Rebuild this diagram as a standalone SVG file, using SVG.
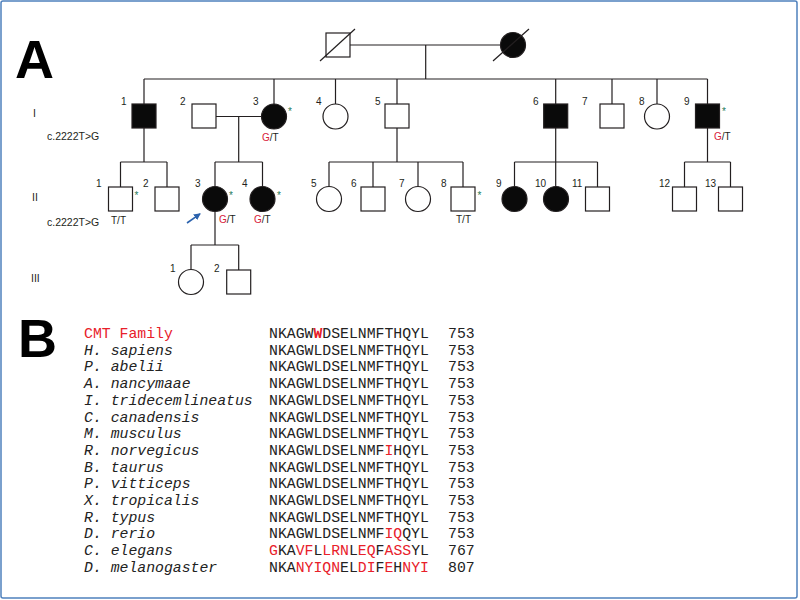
<svg xmlns="http://www.w3.org/2000/svg" width="800" height="600" viewBox="0 0 800 600">
<style>
.ln{stroke:#231f20;stroke-width:1.2;fill:none}
.op{fill:#fff;stroke:#231f20;stroke-width:1.2}
.af{fill:#0a0a0a;stroke:#231f20;stroke-width:1.2}
.lb{font-family:"Liberation Sans",Arial,sans-serif;font-size:10px;fill:#231f20}
.gn{font-family:"Liberation Sans",Arial,sans-serif;font-size:10.5px;fill:#231f20}
.rd{fill:#d8213a}
.ast{font-family:"Liberation Sans",Arial,sans-serif;font-size:10px;fill:#1f7a5a}
.big{font-family:"Liberation Sans",Arial,sans-serif;font-size:54px;font-weight:bold;fill:#000}
.sp{font-family:"Liberation Mono","Courier New",monospace;font-size:14.8px;font-style:italic;fill:#222}
.sq{font-family:"Liberation Mono","Courier New",monospace;font-size:14.8px;fill:#222}
.r{fill:#e8202a}
</style>
<defs>
<marker id="ah" markerWidth="8" markerHeight="8" refX="6" refY="4" orient="auto" markerUnits="userSpaceOnUse">
<path d="M0,0.5 L7,4 L0,7.5 Z" fill="#2b62ad"/>
</marker>
</defs>
<rect x="1" y="1" width="796" height="597" rx="2" fill="#fff" stroke="#4f81bd" stroke-width="1.5"/>
<text class="big" x="15" y="78">A</text>
<text class="big" x="18" y="357">B</text>

<g id="gen-labels">
<text class="gn" x="33" y="117">I</text>
<text class="gn" x="47" y="140">c.2222T&gt;G</text>
<text class="gn" x="32" y="201">II</text>
<text class="gn" x="47" y="226">c.2222T&gt;G</text>
<text class="gn" x="31" y="282">III</text>
</g>

<g id="connectors">
<line class="ln" x1="350" y1="45" x2="500.5" y2="45"/>
<line class="ln" x1="425.7" y1="45" x2="425.7" y2="79"/>
<line class="ln" x1="144" y1="79" x2="707.5" y2="79"/>
<line class="ln" x1="144" y1="79" x2="144" y2="104"/>
<line class="ln" x1="274" y1="79" x2="274" y2="104"/>
<line class="ln" x1="335.5" y1="79" x2="335.5" y2="104"/>
<line class="ln" x1="397" y1="79" x2="397" y2="104"/>
<line class="ln" x1="555.7" y1="79" x2="555.7" y2="104"/>
<line class="ln" x1="612" y1="79" x2="612" y2="104"/>
<line class="ln" x1="657" y1="79" x2="657" y2="104"/>
<line class="ln" x1="707.5" y1="79" x2="707.5" y2="104"/>
<line class="ln" x1="216" y1="116.5" x2="261.5" y2="116.5"/>
<line class="ln" x1="238.7" y1="116.5" x2="238.7" y2="162"/>
<line class="ln" x1="144" y1="128" x2="144" y2="162"/>
<line class="ln" x1="120.5" y1="162" x2="167" y2="162"/>
<line class="ln" x1="120.5" y1="162" x2="120.5" y2="187"/>
<line class="ln" x1="167" y1="162" x2="167" y2="187"/>
<line class="ln" x1="215" y1="162" x2="262.5" y2="162"/>
<line class="ln" x1="215" y1="162" x2="215" y2="186.5"/>
<line class="ln" x1="262.5" y1="162" x2="262.5" y2="186.5"/>
<line class="ln" x1="397" y1="128" x2="397" y2="162"/>
<line class="ln" x1="329" y1="162" x2="463" y2="162"/>
<line class="ln" x1="329" y1="162" x2="329" y2="186.5"/>
<line class="ln" x1="373" y1="162" x2="373" y2="187"/>
<line class="ln" x1="418" y1="162" x2="418" y2="186.5"/>
<line class="ln" x1="463" y1="162" x2="463" y2="187"/>
<line class="ln" x1="555.7" y1="128" x2="555.7" y2="186.5"/>
<line class="ln" x1="514.5" y1="162" x2="597.5" y2="162"/>
<line class="ln" x1="514.5" y1="162" x2="514.5" y2="186.5"/>
<line class="ln" x1="597.5" y1="162" x2="597.5" y2="187"/>
<line class="ln" x1="707.5" y1="128" x2="707.5" y2="162"/>
<line class="ln" x1="684.5" y1="162" x2="730.5" y2="162"/>
<line class="ln" x1="684.5" y1="162" x2="684.5" y2="187"/>
<line class="ln" x1="730.5" y1="162" x2="730.5" y2="187"/>
<line class="ln" x1="215" y1="211.5" x2="215" y2="245"/>
<line class="ln" x1="191" y1="245" x2="238.7" y2="245"/>
<line class="ln" x1="191" y1="245" x2="191" y2="269.5"/>
<line class="ln" x1="238.7" y1="245" x2="238.7" y2="270"/>
<line x1="187" y1="223" x2="200" y2="213.8" stroke="#2b62ad" stroke-width="1.6" marker-end="url(#ah)"/>
</g>

<g id="P0-1">
<rect class="op" x="326" y="33" width="24" height="24"/>
<line class="ln" x1="320" y1="61" x2="355" y2="29"/>
</g>
<g id="P0-2">
<circle class="af" cx="513" cy="45" r="12.5"/>
<line class="ln" x1="493" y1="61" x2="529" y2="29"/>
</g>

<g id="I-1"><rect class="af" x="132" y="104" width="24" height="24"/><text class="lb" x="121" y="105">1</text></g>
<g id="I-2"><rect class="op" x="192" y="104" width="24" height="24"/><text class="lb" x="180" y="105">2</text></g>
<g id="I-3"><circle class="af" cx="274" cy="116.5" r="12.5"/><text class="lb" x="253" y="105">3</text><text class="ast" x="288" y="115">*</text><text class="lb" x="262" y="141"><tspan class="rd">G</tspan>/T</text></g>
<g id="I-4"><circle class="op" cx="335.5" cy="116.5" r="12.5"/><text class="lb" x="316" y="105">4</text></g>
<g id="I-5"><rect class="op" x="385" y="104" width="24" height="24"/><text class="lb" x="375" y="105">5</text></g>
<g id="I-6"><rect class="af" x="543.7" y="104" width="24" height="24"/><text class="lb" x="533" y="105">6</text></g>
<g id="I-7"><rect class="op" x="600" y="104" width="24" height="24"/><text class="lb" x="582" y="105">7</text></g>
<g id="I-8"><circle class="op" cx="657" cy="116.5" r="12.5"/><text class="lb" x="639" y="105">8</text></g>
<g id="I-9"><rect class="af" x="695.5" y="104" width="24" height="24"/><text class="lb" x="684" y="105">9</text><text class="ast" x="722" y="115">*</text><text class="lb" x="714" y="140"><tspan class="rd">G</tspan>/T</text></g>

<g id="II-1"><rect class="op" x="108.5" y="187" width="24" height="24"/><text class="lb" x="96" y="187">1</text><text class="ast" x="134.5" y="199">*</text><text class="lb" x="111" y="224">T/T</text></g>
<g id="II-2"><rect class="op" x="155" y="187" width="24" height="24"/><text class="lb" x="143" y="187">2</text></g>
<g id="II-3"><circle class="af" cx="215" cy="199" r="12.5"/><text class="lb" x="195" y="187">3</text><text class="ast" x="229" y="199">*</text><text class="lb" x="219" y="223"><tspan class="rd">G</tspan>/T</text></g>
<g id="II-4"><circle class="af" cx="262.5" cy="199" r="12.5"/><text class="lb" x="242" y="187">4</text><text class="ast" x="277" y="199">*</text><text class="lb" x="254" y="223"><tspan class="rd">G</tspan>/T</text></g>
<g id="II-5"><circle class="op" cx="329" cy="199" r="12.5"/><text class="lb" x="311" y="187">5</text></g>
<g id="II-6"><rect class="op" x="361" y="187" width="24" height="24"/><text class="lb" x="351" y="187">6</text></g>
<g id="II-7"><circle class="op" cx="418" cy="199" r="12.5"/><text class="lb" x="399" y="187">7</text></g>
<g id="II-8"><rect class="op" x="451" y="187" width="24" height="24"/><text class="lb" x="441" y="187">8</text><text class="ast" x="477.5" y="199">*</text><text class="lb" x="456" y="223">T/T</text></g>
<g id="II-9"><circle class="af" cx="514.5" cy="199" r="12.5"/><text class="lb" x="496" y="187">9</text></g>
<g id="II-10"><circle class="af" cx="556" cy="199" r="12.5"/><text class="lb" x="535" y="187">10</text></g>
<g id="II-11"><rect class="op" x="585.5" y="187" width="24" height="24"/><text class="lb" x="572" y="187">11</text></g>
<g id="II-12"><rect class="op" x="672.5" y="187" width="24" height="24"/><text class="lb" x="659" y="187">12</text></g>
<g id="II-13"><rect class="op" x="718.5" y="187" width="24" height="24"/><text class="lb" x="705" y="187">13</text></g>

<g id="III-1"><circle class="op" cx="191" cy="282" r="12.5"/><text class="lb" x="170" y="272">1</text></g>
<g id="III-2"><rect class="op" x="226.7" y="270" width="24" height="24"/><text class="lb" x="214" y="272">2</text></g>

<g id="alignment">
<text class="sq r" x="84" y="338">CMT Family</text>
<text class="sq" x="269" y="338">NKAGW<tspan class="r" font-weight="bold">W</tspan>DSELNMFTHQYL</text>
<text class="sq" x="448" y="338">753</text>
<text class="sp" x="84" y="354.7">H. sapiens</text>
<text class="sq" x="269" y="354.7">NKAGWLDSELNMFTHQYL</text>
<text class="sq" x="448" y="354.7">753</text>
<text class="sp" x="84" y="371.4">P. abelii</text>
<text class="sq" x="269" y="371.4">NKAGWLDSELNMFTHQYL</text>
<text class="sq" x="448" y="371.4">753</text>
<text class="sp" x="84" y="388.1">A. nancymaae</text>
<text class="sq" x="269" y="388.1">NKAGWLDSELNMFTHQYL</text>
<text class="sq" x="448" y="388.1">753</text>
<text class="sp" x="84" y="404.8">I. tridecemlineatus</text>
<text class="sq" x="269" y="404.8">NKAGWLDSELNMFTHQYL</text>
<text class="sq" x="448" y="404.8">753</text>
<text class="sp" x="84" y="421.5">C. canadensis</text>
<text class="sq" x="269" y="421.5">NKAGWLDSELNMFTHQYL</text>
<text class="sq" x="448" y="421.5">753</text>
<text class="sp" x="84" y="438.2">M. musculus</text>
<text class="sq" x="269" y="438.2">NKAGWLDSELNMFTHQYL</text>
<text class="sq" x="448" y="438.2">753</text>
<text class="sp" x="84" y="454.9">R. norvegicus</text>
<text class="sq" x="269" y="454.9">NKAGWLDSELNMF<tspan class="r">I</tspan>HQYL</text>
<text class="sq" x="448" y="454.9">753</text>
<text class="sp" x="84" y="471.6">B. taurus</text>
<text class="sq" x="269" y="471.6">NKAGWLDSELNMFTHQYL</text>
<text class="sq" x="448" y="471.6">753</text>
<text class="sp" x="84" y="488.3">P. vitticeps</text>
<text class="sq" x="269" y="488.3">NKAGWLDSELNMFTHQYL</text>
<text class="sq" x="448" y="488.3">753</text>
<text class="sp" x="84" y="505">X. tropicalis</text>
<text class="sq" x="269" y="505">NKAGWLDSELNMFTHQYL</text>
<text class="sq" x="448" y="505">753</text>
<text class="sp" x="84" y="521.7">R. typus</text>
<text class="sq" x="269" y="521.7">NKAGWLDSELNMFTHQYL</text>
<text class="sq" x="448" y="521.7">753</text>
<text class="sp" x="84" y="538.4">D. rerio</text>
<text class="sq" x="269" y="538.4">NKAGWLDSELNMF<tspan class="r">IQ</tspan>QYL</text>
<text class="sq" x="448" y="538.4">753</text>
<text class="sp" x="84" y="555.1">C. elegans</text>
<text class="sq" x="269" y="555.1"><tspan class="r">G</tspan>KA<tspan class="r">VF</tspan>L<tspan class="r">LRN</tspan>L<tspan class="r">EQ</tspan>F<tspan class="r">ASS</tspan>YL</text>
<text class="sq" x="448" y="555.1">767</text>
<text class="sp" x="84" y="571.8">D. melanogaster</text>
<text class="sq" x="269" y="571.8">NKA<tspan class="r">NYIQN</tspan>EL<tspan class="r">DI</tspan>F<tspan class="r">E</tspan>H<tspan class="r">NYI</tspan></text>
<text class="sq" x="448" y="571.8">807</text>
</g>
</svg>
